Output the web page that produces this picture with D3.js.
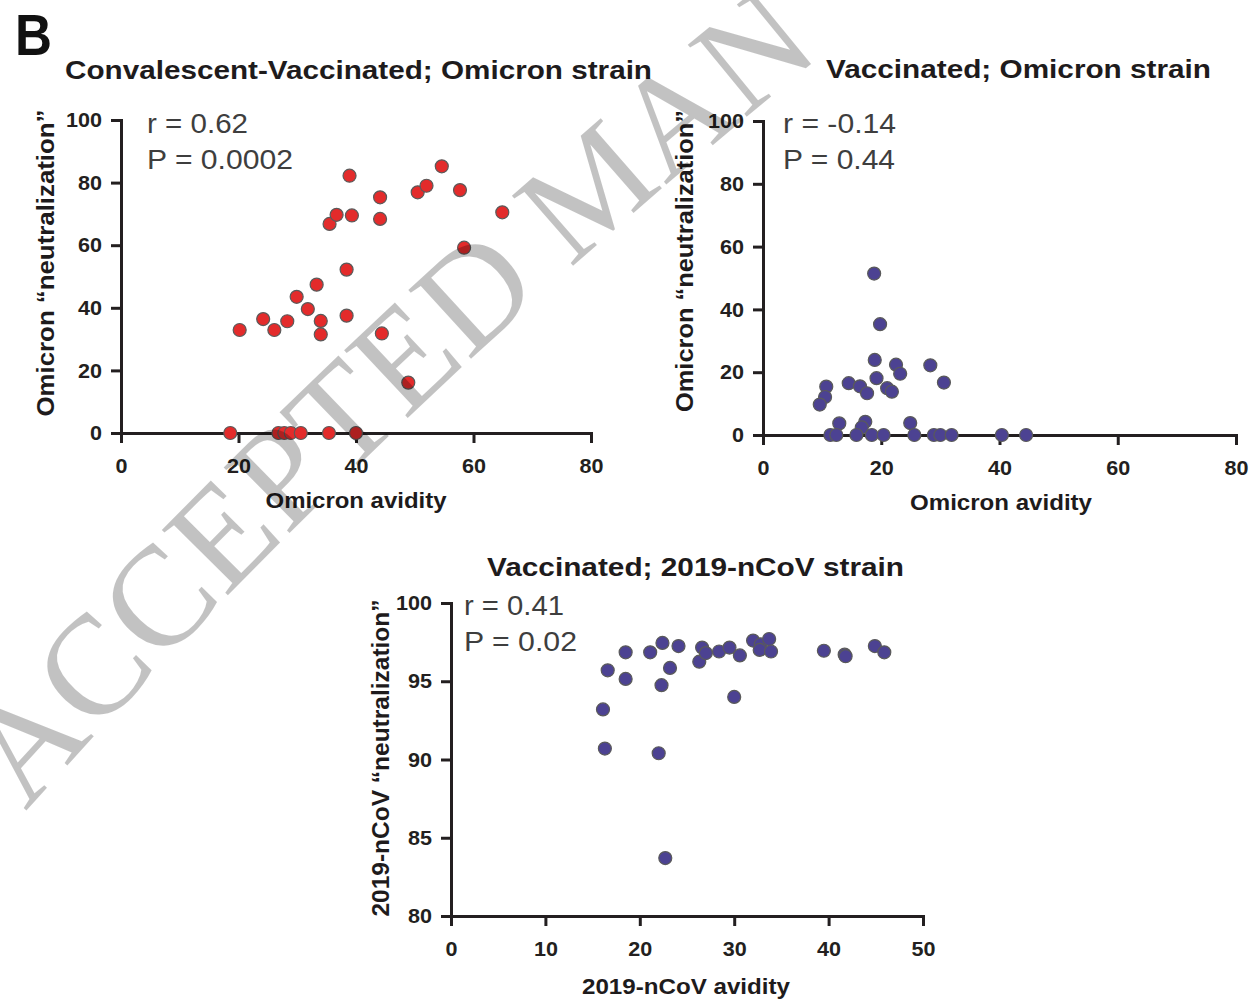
<!DOCTYPE html>
<html>
<head>
<meta charset="utf-8">
<script src="https://cdn.jsdelivr.net/npm/d3@7"></script>
<style>
  html, body { margin: 0; padding: 0; background: #fff; }
  svg { display: block; }
  .axis path, .axis line { stroke: #231f20; stroke-width: 3; }
  .axis text { font-family: "Liberation Sans", Arial, sans-serif; font-weight: bold; font-size: 21px; fill: #231f20; }
</style>
</head>
<body>
<div id="graph"></div>
<script>
// Convalescent-Vaccinated, Omicron strain
var conVacAvidity = [20.2, 24.2, 26.1, 28.3, 29.9, 31.8, 33.3, 34.0, 34.0, 38.4, 38.4, 35.5, 36.7, 39.3, 38.9,
  44.1, 44.1, 44.4, 48.9, 50.5, 52.0, 54.6, 57.7, 58.4, 64.9,
  18.6, 26.8, 27.8, 28.9, 30.6, 35.4, 40.0];
var conVacNeutralization = [32.9, 36.4, 32.9, 35.7, 43.5, 39.6, 47.4, 35.8, 31.5, 37.5, 52.2, 66.8, 69.7, 69.5, 82.2,
  75.3, 68.4, 31.8, 16.1, 76.9, 79.0, 85.2, 77.6, 59.2, 70.5,
  0, 0, 0, 0, 0, 0, 0];

// Vaccinated, Omicron strain
var vacOmicronAvidity = [18.8, 19.8, 18.9, 19.2, 22.5, 23.2, 28.3, 30.6, 14.5, 16.4, 17.6, 21.0, 21.8, 10.7, 10.5,
  9.6, 12.9, 17.3, 16.7, 24.9,
  11.4, 12.4, 15.8, 18.4, 20.4, 25.6, 28.9, 30.0, 31.9, 40.4, 44.5];
var vacOmicronNeutralization = [51.4, 35.3, 23.9, 18.1, 22.4, 19.5, 22.2, 16.7, 16.5, 15.5, 13.3, 14.9, 13.8, 15.4, 12.1,
  9.7, 3.7, 4.2, 2.4, 3.8,
  0, 0, 0, 0, 0, 0, 0, 0, 0, 0, 0];

// Vaccinated, 2019-nCoV strain
var vacWuhanAvidity = [16.1, 16.3, 16.6, 18.5, 18.5, 21.1, 22.4, 22.3, 22.0, 22.7, 23.2, 24.1, 26.3, 26.6, 27.0,
  28.4, 29.5, 30.6, 30.0, 32.0, 32.8, 33.7, 32.7, 33.9, 39.5, 41.7, 41.8, 44.9, 45.9];
var vacWuhanNeutralization = [93.2, 90.7, 95.7, 96.85, 95.15, 96.85, 97.45, 94.75, 90.4, 83.7, 95.85, 97.25, 96.25, 97.15, 96.8,
  96.9, 97.15, 96.65, 94.0, 97.6, 97.35, 97.7, 97.0, 96.9, 96.95, 96.7, 96.6, 97.25, 96.85];

var omicronTicksX = [0, 20, 40, 60, 80];
var omicronTicksY = [0, 20, 40, 60, 80, 100];
var wuhanTicksX = [0, 10, 20, 30, 40, 50];
var wuhanTicksY = [80, 85, 90, 95, 100];

var sans = '"Liberation Sans", Arial, sans-serif';
var serif = '"Liberation Serif", "Times New Roman", serif';

var svg = d3.select('#graph')
  .append('svg')
  .attr('width', 1259)
  .attr('height', 1000);

// put text at a position and stretch it to the measured width
var addText = function (str, x, y, opts) {
  var t = svg.append('text')
    .attr('x', x)
    .attr('y', y)
    .attr('font-family', sans)
    .attr('font-weight', opts.weight || 'bold')
    .attr('font-size', opts.size + 'px')
    .attr('fill', opts.fill || '#1e1b1c')
    .attr('text-anchor', opts.anchor || 'start')
    .text(str);
  if (opts.length) {
    t.attr('textLength', opts.length).attr('lengthAdjust', 'spacingAndGlyphs');
  }
  if (opts.rotate) {
    t.attr('transform', 'rotate(-90,' + x + ',' + y + ')');
  }
  return t;
};

var drawPanel = function (p) {
  var x = d3.scaleLinear().domain(p.xDomain).range(p.xRange);
  var y = d3.scaleLinear().domain(p.yDomain).range(p.yRange);

  var xAxis = d3.axisBottom(x).tickValues(p.xTicks).tickSize(10).tickPadding(15);
  var yAxis = d3.axisLeft(y).tickValues(p.yTicks).tickSize(10).tickPadding(9);

  var gx = svg.append('g')
    .attr('class', 'axis')
    .attr('transform', 'translate(0,' + y(p.yDomain[0]) + ')')
    .call(xAxis);
  var gy = svg.append('g')
    .attr('class', 'axis')
    .attr('transform', 'translate(' + x(0) + ',0)')
    .call(yAxis);

  // tick labels are a bit wider than Arial
  [gx, gy].forEach(function (g) {
    g.selectAll('text')
      .attr('font-family', null)
      .attr('font-size', null)
      .attr('textLength', function (d) { return String(d).length * 12; })
      .attr('lengthAdjust', 'spacingAndGlyphs');
  });

  var data = p.xs.map(function (v, i) { return {x: v, y: p.ys[i]}; });

  svg.append('g')
    .selectAll('circle')
    .data(data)
    .enter()
    .append('circle')
    .attr('cx', function (d) { return x(d.x); })
    .attr('cy', function (d) { return y(d.y); })
    .attr('r', 6.5)
    .attr('fill', p.color)
    .attr('stroke', '#5a5a5a')
    .attr('stroke-width', 1.2);

  addText(p.title, p.titlePos[0], p.titlePos[1], {size: 25, length: p.titlePos[2]});
  addText(p.xLabel, p.xLabelPos[0], p.xLabelPos[1], {size: 22, anchor: 'middle', length: p.xLabelPos[2]});
  addText(p.yLabel, p.yLabelPos[0], p.yLabelPos[1], {size: 24, anchor: 'middle', length: p.yLabelPos[2], rotate: true});
  addText(p.stats[0], p.statsPos[0], p.statsPos[1], {size: 27, weight: 'normal', fill: '#3e3e3e', length: p.statsPos[3]});
  addText(p.stats[1], p.statsPos[0], p.statsPos[2], {size: 27, weight: 'normal', fill: '#3e3e3e', length: p.statsPos[4]});
};

addText('B', 15, 55, {size: 58, length: 37, fill: '#111'});

drawPanel({
  xs: conVacAvidity, ys: conVacNeutralization, color: '#e32b2b',
  xDomain: [0, 80], xRange: [121, 591], yDomain: [0, 100], yRange: [433, 120],
  xTicks: omicronTicksX, yTicks: omicronTicksY,
  title: 'Convalescent-Vaccinated; Omicron strain', titlePos: [65, 79, 587],
  xLabel: 'Omicron avidity', xLabelPos: [356, 508, 181],
  yLabel: 'Omicron \u201cneutralization\u201d', yLabelPos: [54, 263, 307],
  stats: ['r = 0.62', 'P = 0.0002'], statsPos: [147, 133, 168.5, 101, 146]
});

drawPanel({
  xs: vacOmicronAvidity, ys: vacOmicronNeutralization, color: '#4c4292',
  xDomain: [0, 80], xRange: [763, 1236], yDomain: [0, 100], yRange: [435, 121],
  xTicks: omicronTicksX, yTicks: omicronTicksY,
  title: 'Vaccinated; Omicron strain', titlePos: [826, 78, 385],
  xLabel: 'Omicron avidity', xLabelPos: [1001, 510, 182],
  yLabel: 'Omicron \u201cneutralization\u201d', yLabelPos: [693, 261, 302],
  stats: ['r = -0.14', 'P = 0.44'], statsPos: [783, 133, 168.5, 113, 112]
});

drawPanel({
  xs: vacWuhanAvidity, ys: vacWuhanNeutralization, color: '#4c4292',
  xDomain: [0, 50], xRange: [451, 923], yDomain: [80, 100], yRange: [916, 603],
  xTicks: wuhanTicksX, yTicks: wuhanTicksY,
  title: 'Vaccinated; 2019-nCoV strain', titlePos: [487, 576, 417],
  xLabel: '2019-nCoV avidity', xLabelPos: [686, 994, 208],
  yLabel: '2019-nCoV \u201cneutralization\u201d', yLabelPos: [389, 758, 317],
  stats: ['r = 0.41', 'P = 0.02'], statsPos: [464, 615, 650.5, 100, 113]
});

// "ACCEPTED MANUSCRIPT" watermark, one letter at a time along a wide arc
var wmSize = 142;
var wm = [[127, 701], [499, 333], [767, 100]];
var ax = wm[0][0], ay = wm[0][1], bx = wm[1][0], by = wm[1][1], cx = wm[2][0], cy = wm[2][1];
var dd = 2 * (ax * (by - cy) + bx * (cy - ay) + cx * (ay - by));
var ux = ((ax * ax + ay * ay) * (by - cy) + (bx * bx + by * by) * (cy - ay) + (cx * cx + cy * cy) * (ay - by)) / dd;
var uy = ((ax * ax + ay * ay) * (cx - bx) + (bx * bx + by * by) * (ax - cx) + (cx * cx + cy * cy) * (bx - ax)) / dd;
var R = Math.hypot(ax - ux, ay - uy);

var measure = svg.append('text')
  .attr('font-family', serif)
  .attr('font-size', wmSize + 'px');
var letters = 'ACCEPTED MANUSCRIPT'.split('').map(function (ch) {
  measure.text(ch === ' ' ? '\u00a0' : ch);
  return {ch: ch, w: measure.node().getComputedTextLength()};
});
measure.remove();

// first C is centred on the first anchor point; only "ACCEPTED MAN" falls on the page
var s = -(letters[0].w + letters[1].w / 2);
var a0 = Math.atan2(ay - uy, ax - ux);
var wmLayer = svg.append('g').attr('fill', '#000').attr('fill-opacity', 0.24);
letters.slice(0, 12).forEach(function (l) {
  var a = a0 + (s + l.w / 2) / R;
  var px = ux + R * Math.cos(a);
  var py = uy + R * Math.sin(a);
  var rot = Math.atan2(Math.cos(a), -Math.sin(a)) * 180 / Math.PI;
  s += l.w;
  if (l.ch === ' ') return;
  wmLayer.append('text')
    .attr('font-family', serif)
    .attr('font-size', wmSize + 'px')
    .attr('text-anchor', 'middle')
    .attr('transform', 'translate(' + px + ',' + py + ') rotate(' + rot + ')')
    .text(l.ch);
});
</script>
</body>
</html>
